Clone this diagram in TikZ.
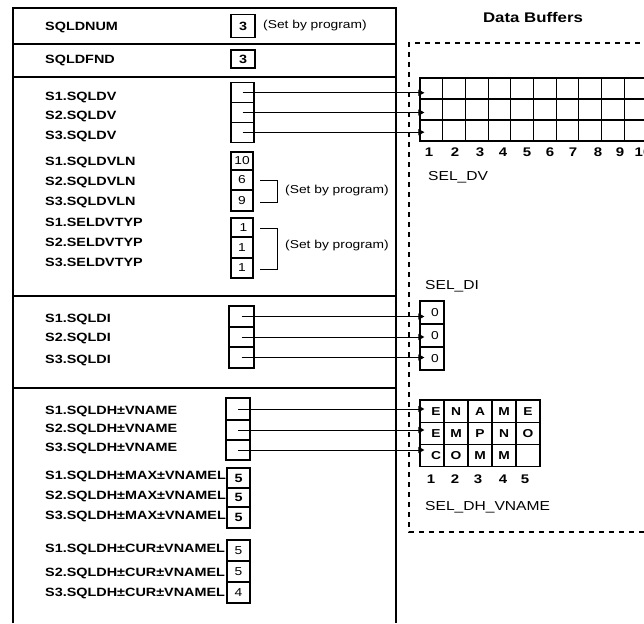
\documentclass[tikz,border=0pt]{standalone}
\usepackage{fontspec}
\setmainfont{Liberation Sans}[FakeStretch=1.2]
\usetikzlibrary{arrows.meta}
\begin{document}
\begin{tikzpicture}[x=1pt,y=-1pt,
  lbl/.style={font=\bfseries\fontsize{12}{12}\selectfont, anchor=base west, inner sep=0pt},
  note/.style={font=\fontsize{11.5}{12}\selectfont, anchor=west, inner sep=0pt},
  bufname/.style={font=\fontsize{13}{13}\selectfont, anchor=west, inner sep=0pt},
  box/.style={draw, line width=1.1pt, inner sep=0pt, font=\fontsize{11.5}{11}\selectfont},
  bbox/.style={box, font=\bfseries\fontsize{12}{11}\selectfont},
  dvcell/.style={draw, line width=1.1pt, inner sep=0pt, minimum width=22.7pt, minimum height=21pt},
  vncell/.style={draw, line width=1.1pt, inner sep=0pt, minimum width=24pt, minimum height=22.3pt, font=\bfseries\fontsize{11.5}{11}\selectfont},
  idx/.style={font=\bfseries\fontsize{12.5}{12}\selectfont, inner sep=0pt},
  conn/.style={line width=1pt, -{Triangle[length=6pt,width=6pt]}, shorten >=-5pt},
  frame/.style={line width=1.2pt},
  bracket/.style={line width=1pt},
  dashbox/.style={line width=1.2pt, dash pattern=on 5pt off 5pt}
]
\useasboundingbox (0,0) rectangle (644,623);

% left frame
\draw[frame] (13,623) -- (13,8) -- (396,8) -- (396,623);
\draw[frame] (13,44) -- (396,44);
\draw[frame] (13,77) -- (396,77);
\draw[line width=2.2pt] (13,296) -- (396,296);
\draw[frame] (13,388) -- (396,388);

% labels
\node[lbl] (lnum) at (45,30.3) {SQLDNUM};
\node[lbl] (lfnd) at (45,64) {SQLDFND};
\node[lbl] (ldv1) at (45,100.3) {S1.SQLDV};
\node[lbl] (ldv2) at (45,119.3) {S2.SQLDV};
\node[lbl] (ldv3) at (45,139.3) {S3.SQLDV};
\node[lbl] (lvl1) at (45,165.3) {S1.SQLDVLN};
\node[lbl] (lvl2) at (45,185.3) {S2.SQLDVLN};
\node[lbl] (lvl3) at (45,205.3) {S3.SQLDVLN};
\node[lbl] (lty1) at (45,226.3) {S1.SELDVTYP};
\node[lbl] (lty2) at (45,246.3) {S2.SELDVTYP};
\node[lbl] (lty3) at (45,266.3) {S3.SELDVTYP};
\node[lbl] (ldi1) at (45,322.3) {S1.SQLDI};
\node[lbl] (ldi2) at (45,341.3) {S2.SQLDI};
\node[lbl] (ldi3) at (45,363.3) {S3.SQLDI};
\node[lbl] (lvn1) at (45,414.3) {S1.SQLDH±VNAME};
\node[lbl] (lvn2) at (45,432.3) {S2.SQLDH±VNAME};
\node[lbl] (lvn3) at (45,451.3) {S3.SQLDH±VNAME};
\node[lbl] (lmx1) at (45,479.3) {S1.SQLDH±MAX±VNAMEL};
\node[lbl] (lmx2) at (45,499.3) {S2.SQLDH±MAX±VNAMEL};
\node[lbl] (lmx3) at (45,519.3) {S3.SQLDH±MAX±VNAMEL};
\node[lbl] (lcu1) at (45,552.3) {S1.SQLDH±CUR±VNAMEL};
\node[lbl] (lcu2) at (45,576.3) {S2.SQLDH±CUR±VNAMEL};
\node[lbl] (lcu3) at (45,596.3) {S3.SQLDH±CUR±VNAMEL};

% value boxes
\node[bbox, minimum width=24pt, minimum height=23pt] (num) at (243,26) {3};
\node[note] (nnum) at (263,26) {(Set by program)};
\node[bbox, minimum width=24pt, minimum height=18pt] (fnd) at (243,59) {3};

\node[box, minimum width=23pt, minimum height=19.7pt] (dv1) at (242.5,92.8) {};
\node[box, minimum width=23pt, minimum height=19.7pt] (dv2) at (242.5,112.5) {};
\node[box, minimum width=23pt, minimum height=19.7pt] (dv3) at (242.5,132.2) {};

\node[box, minimum width=22pt, minimum height=18pt] (vl1) at (242,161) {10};
\node[box, minimum width=22pt, minimum height=20pt] (vl2) at (242,180) {6};
\node[box, minimum width=22pt, minimum height=21pt] (vl3) at (242,200.5) {9};
\draw[bracket] (260,180) -- (277,180) -- (277,202) -- (260,202);
\node[note] (nvl) at (285,191) {(Set by program)};

\node[box, minimum width=22pt, minimum height=19pt] (ty1) at (242,227.5) {\hspace*{3pt}1};
\node[box, minimum width=22pt, minimum height=21pt] (ty2) at (242,247.5) {1};
\node[box, minimum width=22pt, minimum height=20pt] (ty3) at (242,268) {1};
\draw[bracket] (260,228) -- (277,228) -- (277,269) -- (260,269);
\node[note] (nty) at (285,246) {(Set by program)};

\node[box, minimum width=25pt, minimum height=21pt] (di1) at (241.5,316.5) {};
\node[box, minimum width=25pt, minimum height=20pt] (di2) at (241.5,337) {};
\node[box, minimum width=25pt, minimum height=21pt] (di3) at (241.5,357.5) {};

\node[box, minimum width=24pt, minimum height=22pt] (vn1) at (238,409) {};
\node[box, minimum width=24pt, minimum height=20pt] (vn2) at (238,430) {};
\node[box, minimum width=24pt, minimum height=20pt] (vn3) at (238,450) {};

\node[bbox, minimum width=23pt, minimum height=20pt] (mx1) at (238.5,478) {5};
\node[bbox, minimum width=23pt, minimum height=19pt] (mx2) at (238.5,497.5) {5};
\node[bbox, minimum width=23pt, minimum height=21pt] (mx3) at (238.5,517.5) {5};

\node[box, minimum width=23pt, minimum height=21pt] (cu1) at (238.5,550.5) {5};
\node[box, minimum width=23pt, minimum height=21pt] (cu2) at (238.5,571.5) {5};
\node[box, minimum width=23pt, minimum height=21pt] (cu3) at (238.5,592.5) {4};

% data buffers
\node[font=\bfseries\fontsize{14}{14}\selectfont, inner sep=0pt] (title) at (533,17) {Data Buffers};
\draw[dashbox] (650,43) -- (409,43) -- (409,532) -- (650,532);

% SEL_DV grid
\foreach \r in {1,2,3}
  \foreach \c in {1,...,10}
    \node[dvcell] (g-\r-\c) at ({420+22.7*(\c-0.5)},{78+21*(\r-0.5)}) {};
\foreach \c/\xx in {1/429,2/455,3/480,4/503,5/527,6/550,7/573,8/598,9/620,10/643}
  \node[idx] (gi\c) at (\xx,152) {\c};
\node[bufname] (seldv) at (428,177) {SEL\_DV};

% SEL_DI
\node[bufname] (seldi) at (425,286) {SEL\_DI};
\node[box, minimum width=24pt, minimum height=23pt] (r1) at (432,312.5) {\hspace*{6pt}0};
\node[box, minimum width=24pt, minimum height=23pt] (r2) at (432,335.5) {\hspace*{6pt}0};
\node[box, minimum width=24pt, minimum height=23pt] (r3) at (432,358.5) {\hspace*{6pt}0};

% SEL_DH_VNAME grid
\foreach \r/\letters in {1/{E,N,A,M,E},2/{E,M,P,N,O},3/{C,O,M,M,{}}} {
  \foreach \ch [count=\c] in \letters
    \node[vncell] (h-\r-\c) at ({420+24*(\c-0.5)},{400+22.3*(\r-0.5)}) {\ifnum\c=1\hspace*{8pt}\fi\ch};
}
\foreach \c/\xx in {1/431,2/455,3/478,4/503,5/525}
  \node[idx] (hi\c) at (\xx,479) {\c};
\node[bufname] (seldh) at (425,507) {SEL\_DH\_VNAME};

% connectors
\foreach \i in {1,2,3} {
  \draw[conn] (dv\i.center) -- (dv\i.center -| g-\i-1.west);
  \draw[conn] (di\i.center) -- (di\i.center -| r\i.west);
  \draw[conn] (vn\i.center) -- (vn\i.center -| h-\i-1.west);
}
\end{tikzpicture}
\end{document}
